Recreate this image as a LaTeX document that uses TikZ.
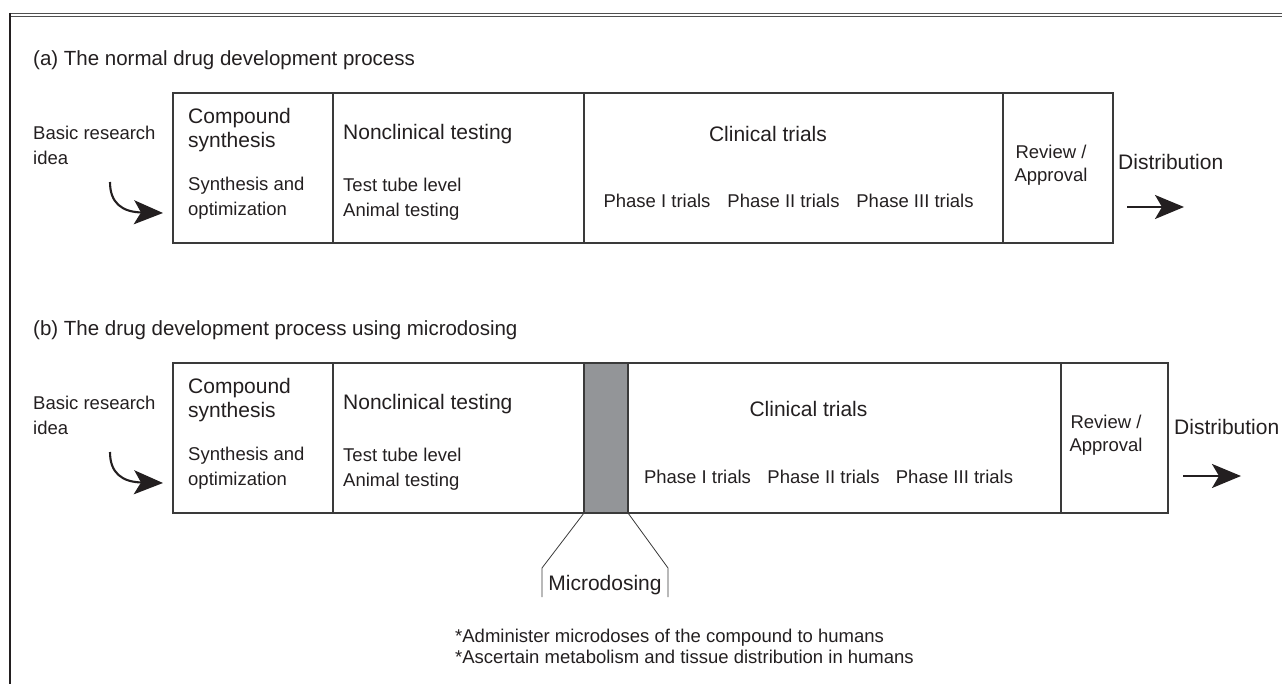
\documentclass[tikz,border=0pt]{standalone}
\usepackage{fontspec}
\setmainfont{Liberation Sans}
\usetikzlibrary{arrows.meta}
\definecolor{ink}{HTML}{231F20}
\definecolor{linec}{HTML}{3A3A3A}
\definecolor{barc}{HTML}{939598}
\definecolor{framec}{HTML}{505050}
\tikzset{
 cell/.style={draw=linec, line width=1.3pt, rectangle, inner sep=0pt, outer sep=0pt, anchor=north west, minimum height=150pt},
 big/.style={font=\fontsize{21}{24}\selectfont, text=ink, inner sep=0pt},
 small/.style={font=\fontsize{18.5}{25}\selectfont, text=ink, inner sep=0pt},
 rev/.style={font=\fontsize{18.5}{23}\selectfont, text=ink, inner sep=0pt, align=center},
 note/.style={font=\fontsize{18.5}{19}\selectfont, text=ink, inner sep=0pt, anchor=west},
 ttl/.style={font=\fontsize{20.5}{24}\selectfont, text=ink, inner sep=0pt, anchor=west},
 fatarrow/.style={draw=ink, line width=2.1pt, -{Stealth[length=29pt,width=24pt,inset=7pt]}},
 callout/.style={draw=linec, line width=0.8pt},
}
\begin{document}
\begin{tikzpicture}[x=1pt,y=-1pt]
\useasboundingbox (0,0) rectangle (1282,684);
% frame
\draw[framec, line width=1.2pt] (9,13.5) -- (1282,13.5);
\draw[framec, line width=1.2pt] (9,16.5) -- (1282,16.5);
\draw[ink, line width=2pt] (9.5,13) -- (9.5,684);

% ---------- (a) ----------
\node[ttl] (ta) at (33,60) {(a) The normal drug development process};
\node[cell, minimum width=160pt] (a1) at (173,93) {};
\node[cell, minimum width=251pt] (a2) at (333,93) {};
\node[cell, minimum width=419pt] (a3) at (584,93) {};
\node[cell, minimum width=110pt] (a4) at (1003,93) {};

\node[small, anchor=west, align=left] (ida) at (33,145.5) {Basic research\\idea};
\node[big, anchor=west, align=left] (csa) at (188,130) {Compound\\synthesis};
\node[small, anchor=west, align=left] (soa) at (188,198.5) {Synthesis and\\optimization};
\node[big, anchor=west] (nca) at (343,134) {Nonclinical testing};
\node[small, anchor=west, align=left] (tta) at (343,199) {Test tube level\\Animal testing};
\node[big] (cta) at (768,134) {Clinical trials};
\node[small] (p1a) at (657,201) {Phase I trials};
\node[small] (p2a) at (783.5,201) {Phase II trials};
\node[small] (p3a) at (915,201) {Phase III trials};
\node[rev] (rva) at (1051,165) {Review /\\Approval};
\node[big, anchor=west] (dsa) at (1118,162) {Distribution};

\coordinate (ca0) at (110,182);
\coordinate (ca1) at (163,213);
\draw[fatarrow] (ca0) .. controls (110,203) and (122,212) .. (ca1);
\coordinate (da0) at (1127,207);
\coordinate (da1) at (1184,207);
\draw[fatarrow] (da0) -- (da1);

% ---------- (b) ----------
\node[ttl] (tb) at (33,330) {(b) The drug development process using microdosing};
\node[cell, minimum width=160pt] (b1) at (173,363) {};
\node[cell, minimum width=251pt] (b2) at (333,363) {};
\node[cell, minimum width=44pt, fill=barc] (b3) at (584,363) {};
\node[cell, minimum width=433pt] (b4) at (628,363) {};
\node[cell, minimum width=107pt] (b5) at (1061,363) {};

\node[small, anchor=west, align=left] (idb) at (33,415.5) {Basic research\\idea};
\node[big, anchor=west, align=left] (csb) at (188,400) {Compound\\synthesis};
\node[small, anchor=west, align=left] (sob) at (188,468.5) {Synthesis and\\optimization};
\node[big, anchor=west] (ncb) at (343,404) {Nonclinical testing};
\node[small, anchor=west, align=left] (ttb) at (343,469) {Test tube level\\Animal testing};
\node[big] (ctb) at (808.5,409) {Clinical trials};
\node[small] (p1b) at (697.5,477) {Phase I trials};
\node[small] (p2b) at (823.5,477) {Phase II trials};
\node[small] (p3b) at (954.5,477) {Phase III trials};
\node[rev] (rvb) at (1106,435) {Review /\\Approval};
\node[big, anchor=west] (dsb) at (1174,427) {Distribution};

\coordinate (cb0) at (110,452);
\coordinate (cb1) at (163,483);
\draw[fatarrow] (cb0) .. controls (110,473) and (122,482) .. (cb1);
\coordinate (db0) at (1183,476);
\coordinate (db1) at (1241,476);
\draw[fatarrow] (db0) -- (db1);

% microdosing callout
\coordinate (m1) at (542,568);
\coordinate (m2) at (542,597);
\coordinate (m3) at (668,568);
\coordinate (m4) at (668,597);
\draw[callout] (b3.south west) -- (m1) -- (m2);
\draw[callout] (b3.south east) -- (m3) -- (m4);
\node[big] (mic) at (605,585) {Microdosing};
\node[note] (n1) at (455,638) {*Administer microdoses of the compound to humans};
\node[note] (n2) at (455,657) {*Ascertain metabolism and tissue distribution in humans};
\end{tikzpicture}
\end{document}
